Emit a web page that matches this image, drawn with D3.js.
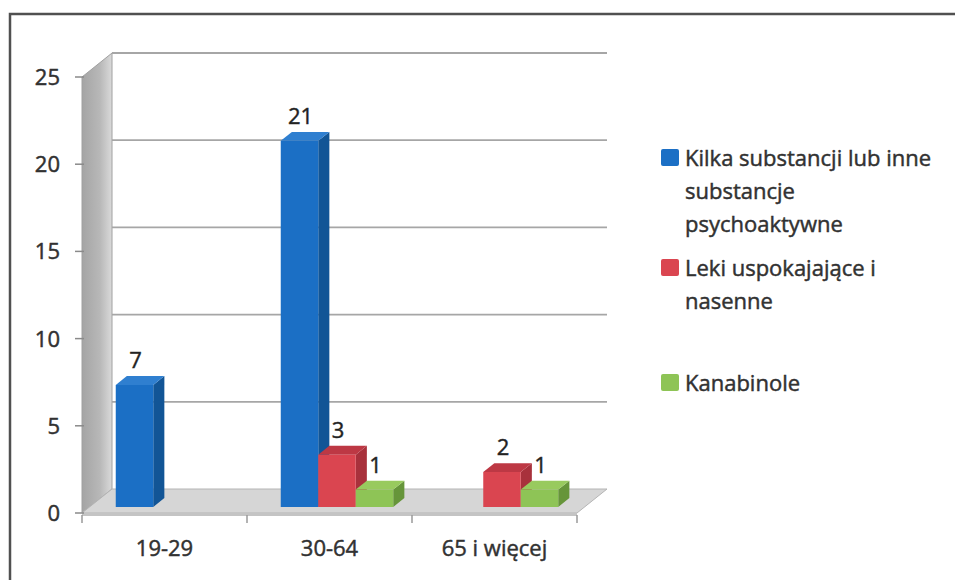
<!DOCTYPE html>
<html>
<head>
<meta charset="utf-8">
<script src="https://cdnjs.cloudflare.com/ajax/libs/d3/7.8.5/d3.min.js"></script>
<style>
  body { margin: 0; background: #fff; }
  svg text { font-family: "Open Sans", "Noto Sans", sans-serif; stroke: #2e2e2e; stroke-width: 0.45px; }
</style>
</head>
<body>
<svg id="chart"></svg>
<script>
var categories = ["19-29", "30-64", "65 i więcej"];
var seriesNames = ["Kilka substancji lub inne substancje psychoaktywne", "Leki uspokajające i nasenne", "Kanabinole"];
var kilka = [7, 21, null];
var leki = [null, 3, 2];
var kanabinole = [null, 1, 1];
var yTicks = [0, 5, 10, 15, 20, 25];
var legendLines = [
  ["Kilka substancji lub inne", "substancje", "psychoaktywne"],
  ["Leki uspokajające i", "nasenne"],
  ["Kanabinole"]
];

var colors = [
  {front: "#1b6fc5", side: "#125596", top: "#2f7fd0"},
  {front: "#da4550", side: "#a8313c", top: "#bd3844"},
  {front: "#8ec456", side: "#66953a", top: "#98ca5e"}
];

var w = 955, h = 580;
// depth of the 3d box
var depth = {dx: 30, dy: -24};
var barDepth = [0.25, 0.62];

var svg = d3.select("#chart")
  .attr("width", w)
  .attr("height", h);

var yScale = d3.scaleLinear()
  .domain([0, 25])
  .range([513, 77]);

var xScale = d3.scaleBand()
  .domain(categories)
  .range([82, 577]);

var xSub = d3.scaleBand()
  .domain(d3.range(3))
  .range([0, xScale.bandwidth()])
  .paddingOuter(0.7);

function proj(x, y, f) {
  return [x + depth.dx * f, y + depth.dy * f];
}
function pts(arr) {
  return arr.map(function(p){ return p.join(","); }).join(" ");
}

var defs = svg.append("defs");
var wallGrad = defs.append("linearGradient")
  .attr("id", "wall")
  .attr("x1", "0").attr("x2", "1").attr("y1", "0").attr("y2", "0");
wallGrad.append("stop").attr("offset", "0").attr("stop-color", "#a4a4a4");
wallGrad.append("stop").attr("offset", "0.6").attr("stop-color", "#b8b8b8");
wallGrad.append("stop").attr("offset", "1").attr("stop-color", "#dadada");

// frame
svg.append("path")
  .attr("d", "M10,580 L10,14 L955,14")
  .attr("fill", "none")
  .attr("stroke", "#505050")
  .attr("stroke-width", 2.5);

var x0 = xScale.range()[0], x1 = xScale.range()[1];
var y0 = yScale(0), yTop = yScale(25);

// left wall
svg.append("polygon")
  .attr("points", pts([proj(x0, yTop, 0), proj(x0, yTop, 1), proj(x0, y0, 1), proj(x0, y0, 0)]))
  .attr("fill", "url(#wall)")
  .attr("stroke", "#a0a0a0")
  .attr("stroke-width", 1);

// floor
svg.append("polygon")
  .attr("points", pts([proj(x0, y0, 0), proj(x0, y0, 1), proj(x1, y0, 1), proj(x1, y0, 0)]))
  .attr("fill", "#d6d6d6")
  .attr("stroke", "#b4b4b4")
  .attr("stroke-width", 1);
svg.append("rect")
  .attr("x", x0).attr("y", y0)
  .attr("width", x1 - x0).attr("height", 3)
  .attr("fill", "#c4c4c4");

// back wall gridlines
svg.selectAll(".grid")
  .data(yTicks.filter(function(d){ return d > 0; }))
  .enter().append("line")
  .attr("class", "grid")
  .attr("x1", function(d){ return proj(x0, yScale(d), 1)[0]; })
  .attr("y1", function(d){ return proj(x0, yScale(d), 1)[1]; })
  .attr("x2", function(d){ return proj(x1, yScale(d), 1)[0]; })
  .attr("y2", function(d){ return proj(x1, yScale(d), 1)[1]; })
  .attr("stroke", "#a6a6a6")
  .attr("stroke-width", 1.8);

// y axis ticks + labels
svg.selectAll(".ytick")
  .data(yTicks)
  .enter().append("line")
  .attr("x1", 75).attr("x2", x0 + 2)
  .attr("y1", function(d){ return yScale(d); })
  .attr("y2", function(d){ return yScale(d); })
  .attr("stroke", "#8a8a8a")
  .attr("stroke-width", 1.5);

svg.selectAll(".ylab")
  .data(yTicks)
  .enter().append("text")
  .attr("x", 60)
  .attr("y", function(d){ return yScale(d); })
  .attr("dy", "0.36em")
  .attr("text-anchor", "end")
  .attr("font-size", 22)
  .attr("fill", "#333")
  .text(function(d){ return d; });

// x ticks + labels
var xTickPos = categories.map(function(c){ return xScale(c); }).concat([x1]);
svg.selectAll(".xtick")
  .data(xTickPos)
  .enter().append("line")
  .attr("x1", function(d){ return d; })
  .attr("x2", function(d){ return d; })
  .attr("y1", y0 + 2).attr("y2", y0 + 10)
  .attr("stroke", "#9a9a9a")
  .attr("stroke-width", 1.5);

svg.selectAll(".xlab")
  .data(categories)
  .enter().append("text")
  .attr("x", function(d){ return xScale(d) + xScale.bandwidth() / 2; })
  .attr("y", 556)
  .attr("text-anchor", "middle")
  .attr("font-size", 22)
  .attr("fill", "#333")
  .text(function(d){ return d; });

// bar data
var seriesValues = [kilka, leki, kanabinole];
var bars = [];
categories.forEach(function(c, i){
  seriesValues.forEach(function(vals, j){
    if (vals[i] == null) return;
    bars.push({cat: c, s: j, v: vals[i]});
  });
});

function barGeom(d) {
  var bx = xScale(d.cat) + xSub(d.s);
  var bw = xSub.bandwidth();
  var f0 = barDepth[0], f1 = barDepth[1];
  var yb = yScale(0), yt = yScale(d.v);
  return {
    front: [proj(bx, yt, f0), proj(bx + bw, yt, f0), proj(bx + bw, yb, f0), proj(bx, yb, f0)],
    side: [proj(bx + bw, yt, f0), proj(bx + bw, yt, f1), proj(bx + bw, yb, f1), proj(bx + bw, yb, f0)],
    top: [proj(bx, yt, f0), proj(bx, yt, f1), proj(bx + bw, yt, f1), proj(bx + bw, yt, f0)],
    cx: proj(bx + bw / 2, yt, f0)[0],
    ty: proj(bx, yt, f0)[1]
  };
}

// value labels (drawn first so bars can hide them like in the original)
svg.selectAll(".vlab")
  .data(bars)
  .enter().append("text")
  .attr("x", function(d){ return barGeom(d).cx + 1; })
  .attr("y", function(d){ return barGeom(d).ty - 17; })
  .attr("text-anchor", "middle")
  .attr("font-size", 22)
  .attr("fill", "#1e1e1e")
  .text(function(d){ return d.v; });

var g = svg.selectAll(".bar")
  .data(bars)
  .enter().append("g")
  .attr("class", "bar");

g.append("polygon")
  .attr("points", function(d){ return pts(barGeom(d).side); })
  .attr("fill", function(d){ return colors[d.s].side; });
g.append("polygon")
  .attr("points", function(d){ return pts(barGeom(d).top); })
  .attr("fill", function(d){ return colors[d.s].top; });
g.append("polygon")
  .attr("points", function(d){ return pts(barGeom(d).front); })
  .attr("fill", function(d){ return colors[d.s].front; });

// legend
var legendY = [158, 268, 383];
var lg = svg.selectAll(".legend")
  .data(seriesNames)
  .enter().append("g")
  .attr("class", "legend")
  .attr("transform", function(d, i){ return "translate(661," + legendY[i] + ")"; });

lg.append("rect")
  .attr("x", 0).attr("y", -9)
  .attr("width", 18).attr("height", 17)
  .attr("rx", 2)
  .attr("fill", function(d, i){ return colors[i].front; });

lg.each(function(d, i){
  var t = d3.select(this).append("text")
    .attr("x", 24)
    .attr("y", 0)
    .attr("font-size", 22)
    .attr("fill", "#333");
  legendLines[i].forEach(function(line, k){
    t.append("tspan")
      .attr("x", 24)
      .attr("y", k * 33)
      .attr("dy", "0.36em")
      .text(line);
  });
});
</script>
</body>
</html>
